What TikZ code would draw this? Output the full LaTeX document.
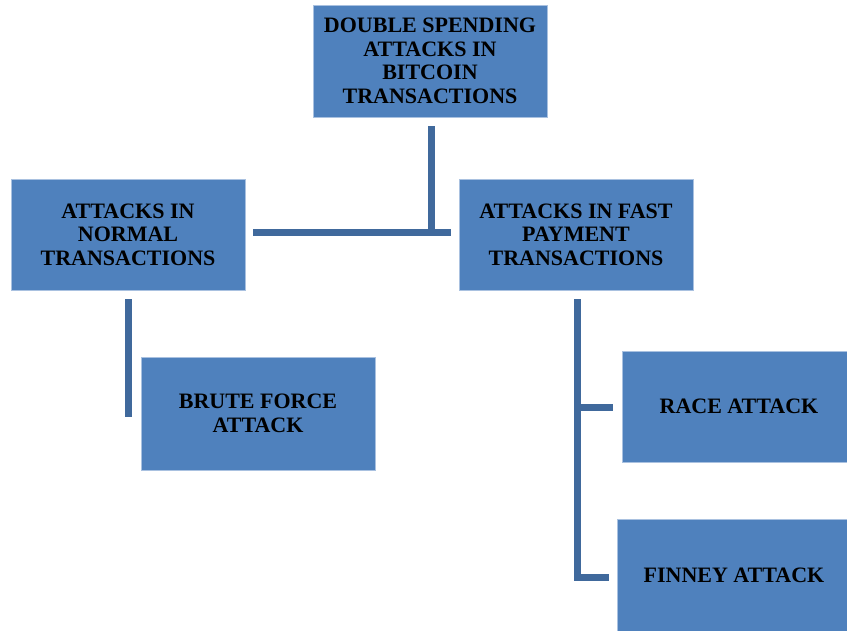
\documentclass[tikz,border=0pt]{standalone}
\usepackage{fontspec}
\setmainfont{Liberation Serif}
\usetikzlibrary{calc}
\definecolor{boxfill}{HTML}{4F81BD}
\definecolor{boxedge}{HTML}{A9C1E0}
\definecolor{linkcol}{HTML}{40699C}
\begin{document}
\begin{tikzpicture}[x=1pt,y=-1pt,
  topic/.style={rectangle, fill=boxfill, draw=boxedge, line width=0.8pt,
    minimum width=234pt, minimum height=112pt, inner sep=0pt,
    align=center, text=black,
    font=\bfseries\fontsize{22}{23.5}\selectfont},
  conn/.style={draw=linkcol, line width=7pt, line cap=butt, line join=miter}]
\useasboundingbox (0,0) rectangle (847,631);
\clip (0,0) rectangle (847,631);

% boxes
\node[topic] (T) at (430,61) {DOUBLE SPENDING\\ATTACKS IN\\BITCOIN\\TRANSACTIONS};
\node[topic, minimum height=111pt] (L) at (128,234.5) {ATTACKS IN\\NORMAL\\TRANSACTIONS};
\node[topic, minimum height=111pt] (F) at (576,234.5) {ATTACKS IN FAST\\PAYMENT\\TRANSACTIONS};
\node[topic, minimum height=113pt] (B) at (258,413.5) {BRUTE FORCE\\ATTACK};
\node[topic, minimum height=111pt] (R) at (739,406.5) {RACE ATTACK};
\node[topic] (N) at (734,575) {FINNEY ATTACK};

% root to first level
\coordinate (J) at ($(T.south |- L.east)+(1,-1.5)$);
\draw[conn] ($(T.south)+(1,9)$) -- ($(J)+(0,3.5)$);
\draw[conn] ($(L.east)+(8,-1.5)$) -- ($(F.west)+(-8,-1.5)$);

% normal transactions branch
\coordinate (Lend) at ($(L.south)+(0,127)$);
\draw[conn] ($(L.south)+(0,9)$) -- (Lend);

% fast payment branch
\draw[conn] ($(F.south)+(1,9)$) -- ($(F.south |- N.west)+(1,2)$) -- ($(N.west)+(-8,2)$);
\draw[conn] ($(F.south |- R.west)+(1,0.5)$) -- ($(R.west)+(-9,0.5)$);
\end{tikzpicture}
\end{document}
